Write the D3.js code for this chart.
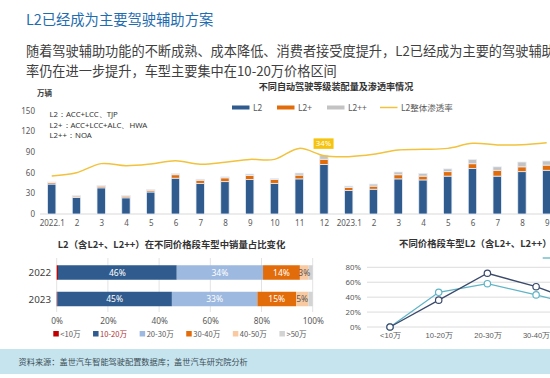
<!DOCTYPE html>
<html><head><meta charset="utf-8">
<script src="https://cdn.jsdelivr.net/npm/d3@7"></script>
<style>
html,body{margin:0;padding:0;background:#fff;}
svg{display:block;font-family:"Noto Sans CJK SC","Noto Sans",sans-serif;}
</style></head>
<body><svg id="c" width="550" height="378"></svg>
<script>
// ---------- data ----------
const months = ["2022.1","2","3","4","5","6","7","8","9","10","11","12","2023.1","2","3","4","5","6","7","8","9"];
const monthKeys = months.map((m,i)=>i+"|"+m);
const l2Values   = [43.5,24,38,23.5,32,52,44.5,47,50,44.5,51,72,34,36,51,49.5,55,66,55,61.5,63.5];
const l2pValues  = [2,2,2.5,2.5,2.5,5,4.5,5.5,6,5.5,5.5,7.5,4.5,4.5,6,5.5,6.5,7,8.5,7,7.5];
const l2ppValues = [1,1,1,1,1,1.5,1.5,1.5,2,1.5,3,6,2,3,4,4,4,6,5,7,6];
const penetration = [19.7,21.4,26.1,25.0,25.9,27.6,25.8,26.8,28.3,28.3,34.0,30.2,29.7,30.9,33.2,33.5,34.0,36.6,35.8,35.9,36.9];
const yTicks = [0,30,60,90,120,150];
const levelNames = ["L2","L2+","L2++"];
const notes = ["L2：ACC+LCC、TJP","L2+：ACC+LCC+ALC、HWA","L2++：NOA"];

const years = ["2022","2023"];
const priceSegs = ["<10万","10-20万","20-30万","30-40万","40-50万",">50万"];
const share2022 = [0.5,46.4,33.7,14.4,3.4,1.6];
const share2023 = [0.2,44.8,33.4,15.1,4.8,1.7];
const shareTicks = [0,20,40,60,80,100];

const rateCats = ["<10万","10-20万","20-30万","30-40万","40-50万"];
const rateTeal = [0,46.5,58,43,27];
const rateDark = [0,36,72,54,30];
const rateTicks = [0,20,40,60,80];

// ---------- styles ----------
const C = {l2:"#2f5b8e", l2p:"#e36c0a", l2pp:"#c3c3c3", line:"#f2c23c",
  segs:["#c00000","#2f5b8e","#9db9df","#e36c0a","#f9c9a1","#d3d3d3"],
  teal:"#5fb4c6", dark:"#3b4a6b", text:"#404040", axis:"#595959", grid:"#e3e3e3"};

const svg = d3.select("#c");

// ---------- header ----------
svg.append("text").attr("x",26).attr("y",25).attr("fill","#1f6db0")
  .attr("font-size",14.3).text("L2已经成为主要驾驶辅助方案");
svg.append("text").attr("x",26).attr("y",56).attr("fill",C.text).attr("font-size",13.2)
  .text("随着驾驶辅助功能的不断成熟、成本降低、消费者接受度提升，L2已经成为主要的驾驶辅助方案，渗透");
svg.append("text").attr("x",26).attr("y",75.5).attr("fill",C.text).attr("font-size",13.2)
  .text("率仍在进一步提升，车型主要集中在10-20万价格区间");

// ---------- top chart ----------
const x = d3.scalePoint().domain(monthKeys).range([51.7,546.7]);
const y = d3.scaleLinear().domain([0,150]).range([214,110.7]);
const y2 = d3.scaleLinear().domain([0,50]).range([214,117.5]);
const barW = 8.4;

svg.append("text").attr("x",336).attr("y",90).attr("text-anchor","middle")
  .attr("font-size",9.1).attr("font-weight","bold").attr("fill","#333").text("不同自动驾驶等级装配量及渗透率情况");
svg.append("text").attr("x",37).attr("y",96).attr("font-size",7.5).attr("font-weight","bold").attr("fill","#404040").text("万辆");

const ya = svg.append("g").attr("transform","translate(35,0)")
  .call(d3.axisLeft(y).tickValues(yTicks).tickSize(0).tickPadding(0));
ya.select(".domain").remove();
ya.selectAll("text").attr("font-size",8).attr("fill",C.axis).attr("font-family","Noto Sans, sans-serif");

svg.append("line").attr("x1",40).attr("x2",560).attr("y1",y(0)).attr("y2",y(0)).attr("stroke","#d9d9d9");

const xa = svg.append("g").attr("transform",`translate(0,${y(0)})`)
  .call(d3.axisBottom(x).tickSize(0).tickPadding(6.5).tickFormat(k=>k.split("|")[1]));
xa.select(".domain").remove();
xa.selectAll("text").attr("font-size",8).attr("fill",C.axis).attr("font-family","Noto Sans, sans-serif");

notes.forEach((t,i)=>svg.append("text").attr("x",49.5).attr("y",117+i*10.6)
  .attr("font-size",7.8).attr("fill","#333").attr("font-family","Noto Sans, sans-serif").text(t));

const rows = monthKeys.map((k,i)=>({key:k,"L2":l2Values[i],"L2+":l2pValues[i],"L2++":l2ppValues[i]}));
const stack = d3.stack().keys(levelNames)(rows);
const colors = {"L2":C.l2,"L2+":C.l2p,"L2++":C.l2pp};
svg.append("g").selectAll("g").data(stack).join("g").attr("fill",d=>colors[d.key])
  .selectAll("rect").data(d=>d).join("rect")
  .attr("x",d=>x(d.data.key)-barW/2).attr("width",barW)
  .attr("y",d=>y(d[1])).attr("height",d=>y(d[0])-y(d[1]))
  .attr("stroke","#e9eef5").attr("stroke-width",0.8);

const line = d3.line().x((d,i)=>x(monthKeys[i])).y(d=>y2(d)).curve(d3.curveCatmullRom.alpha(0.5));
svg.append("path").datum(penetration).attr("d",line).attr("fill","none")
  .attr("stroke",C.line).attr("stroke-width",1.5);

// 34% callout at month 11 peak
const pk = 10;
const lx = (x(monthKeys[pk])+x(monthKeys[pk+1]))/2 + 12, ly = y2(penetration[pk]) - 5;
svg.append("rect").attr("x",lx-10).attr("y",ly-5).attr("width",20).attr("height",10.5).attr("fill","#f6c40f");
svg.append("text").attr("x",lx).attr("y",ly+3).attr("text-anchor","middle").attr("font-size",7.8)
  .attr("fill","#fff").attr("font-family","Noto Sans, sans-serif").text(Math.round(penetration[pk])+"%");

// legend top
const legItems = [{n:"L2",c:C.l2,t:"rect",x:232},{n:"L2+",c:C.l2p,t:"rect",x:277},{n:"L2++",c:C.l2pp,t:"rect",x:327},{n:"L2整体渗透率",c:C.line,t:"line",x:380}];
legItems.forEach(d=>{
  if(d.t==="rect") svg.append("rect").attr("x",d.x).attr("y",105.5).attr("width",17.5).attr("height",4).attr("fill",d.c);
  else svg.append("line").attr("x1",d.x).attr("x2",d.x+17.5).attr("y1",107.5).attr("y2",107.5).attr("stroke",d.c).attr("stroke-width",1.5);
  svg.append("text").attr("x",d.x+21).attr("y",110.5).attr("font-size",8.5).attr("fill",C.axis).text(d.n);
});

// ---------- bottom-left chart ----------
const xs = d3.scaleLinear().domain([0,100]).range([56.7,312.7]);
const ys = d3.scalePoint().domain(years).range([272.5,299]);
const barH = 14.5;
svg.append("text").attr("x",171.5).attr("y",247.5).attr("text-anchor","middle").attr("font-size",9.4)
  .attr("font-weight","bold").attr("fill","#333").text("L2（含L2+、L2++）在不同价格段车型中销量占比变化");

svg.append("g").selectAll("line").data(shareTicks).join("line")
  .attr("x1",d=>xs(d)).attr("x2",d=>xs(d)).attr("y1",258).attr("y2",312).attr("stroke",C.grid);

const xsa = svg.append("g").attr("transform","translate(0,312)")
  .call(d3.axisBottom(xs).tickValues(shareTicks).tickSize(0).tickPadding(6).tickFormat(d=>d+"%"));
xsa.select(".domain").remove();
xsa.selectAll("text").attr("font-size",8.3).attr("fill",C.axis).attr("font-family","Noto Sans, sans-serif");

const ysa = svg.append("g").attr("transform","translate(51,0)")
  .call(d3.axisLeft(ys).tickSize(0).tickPadding(0));
ysa.select(".domain").remove();
ysa.selectAll("text").attr("font-size",9.8).attr("fill","#404040").attr("font-family","Noto Sans, sans-serif");

const shares = {"2022":share2022,"2023":share2023};
years.forEach(yr=>{
  let cum = 0;
  const segs = shares[yr].map((v,i)=>{const s={yr,i,v,x0:cum,x1:cum+v}; cum+=v; return s;});
  const g = svg.append("g");
  g.selectAll("rect").data(segs).join("rect")
    .attr("x",d=>xs(d.x0)).attr("width",d=>xs(d.x1)-xs(d.x0))
    .attr("y",ys(yr)-barH/2).attr("height",barH).attr("fill",d=>C.segs[d.i]);
  g.selectAll("text").data(segs.filter(d=>d.v>=3)).join("text")
    .attr("x",d=>xs((d.x0+d.x1)/2)).attr("y",ys(yr)+3).attr("text-anchor","middle")
    .attr("font-size",8.5).attr("font-family","Noto Sans, sans-serif")
    .attr("fill",d=>d.i===4?"#595959":"#fff").text(d=>Math.round(d.v)+"%");
});

// bottom legend
let lxp = 53.3;
priceSegs.forEach((n,i)=>{
  svg.append("rect").attr("x",lxp).attr("y",331).attr("width",5.5).attr("height",5.5).attr("fill",C.segs[i]);
  const t = svg.append("text").attr("x",lxp+7).attr("y",337).attr("font-size",7.6)
    .attr("fill",i===1?"#b03030":C.axis).text(n);
  lxp += 7 + t.node().getComputedTextLength() + 12.5;
});

// ---------- bottom-right chart ----------
const xr = d3.scalePoint().domain(rateCats).range([390,390+48.7*4]);
const yr = d3.scaleLinear().domain([0,80]).range([327,267.3]);
svg.append("text").attr("x",399).attr("y",246.5).attr("font-size",9.4).attr("font-weight","bold")
  .attr("fill","#333").text("不同价格段车型L2（含L2+、L2++）渗透率");
svg.append("g").selectAll("line").data(rateTicks).join("line")
  .attr("x1",367).attr("x2",600).attr("y1",d=>yr(d)).attr("y2",d=>yr(d)).attr("stroke","#dcdcdc");
const yra = svg.append("g").attr("transform","translate(361,0)")
  .call(d3.axisLeft(yr).tickValues(rateTicks).tickSize(0).tickPadding(0).tickFormat(d=>d+"%"));
yra.select(".domain").remove();
yra.selectAll("text").attr("font-size",7.8).attr("fill",C.axis).attr("font-family","Noto Sans, sans-serif");
const xra = svg.append("g").attr("transform","translate(0,327)")
  .call(d3.axisBottom(xr).tickSize(0).tickPadding(6));
xra.select(".domain").remove();
xra.selectAll("text").attr("font-size",7.6).attr("fill",C.axis);

const rl = d3.line().x((d,i)=>xr(rateCats[i])).y(d=>yr(d));
[[rateTeal,C.teal],[rateDark,C.dark]].forEach(([vals,col])=>{
  svg.append("path").datum(vals).attr("d",rl).attr("fill","none").attr("stroke",col).attr("stroke-width",1.3);
  svg.append("g").selectAll("circle").data(vals).join("circle")
    .attr("cx",(d,i)=>xr(rateCats[i])).attr("cy",d=>yr(d)).attr("r",3.2)
    .attr("fill","#fff").attr("stroke",col).attr("stroke-width",1.2);
});
svg.append("line").attr("x1",542.7).attr("x2",562).attr("y1",258).attr("y2",258).attr("stroke",C.teal).attr("stroke-width",1.3);

// ---------- footer ----------
svg.append("rect").attr("x",0).attr("y",349).attr("width",550).attr("height",25).attr("fill","#c6e4ee");
svg.append("text").attr("x",18.5).attr("y",364.5).attr("font-size",8.2).attr("fill","#3d4f58")
  .text("资料来源：盖世汽车智能驾驶配置数据库；盖世汽车研究院分析");
</script></body></html>
